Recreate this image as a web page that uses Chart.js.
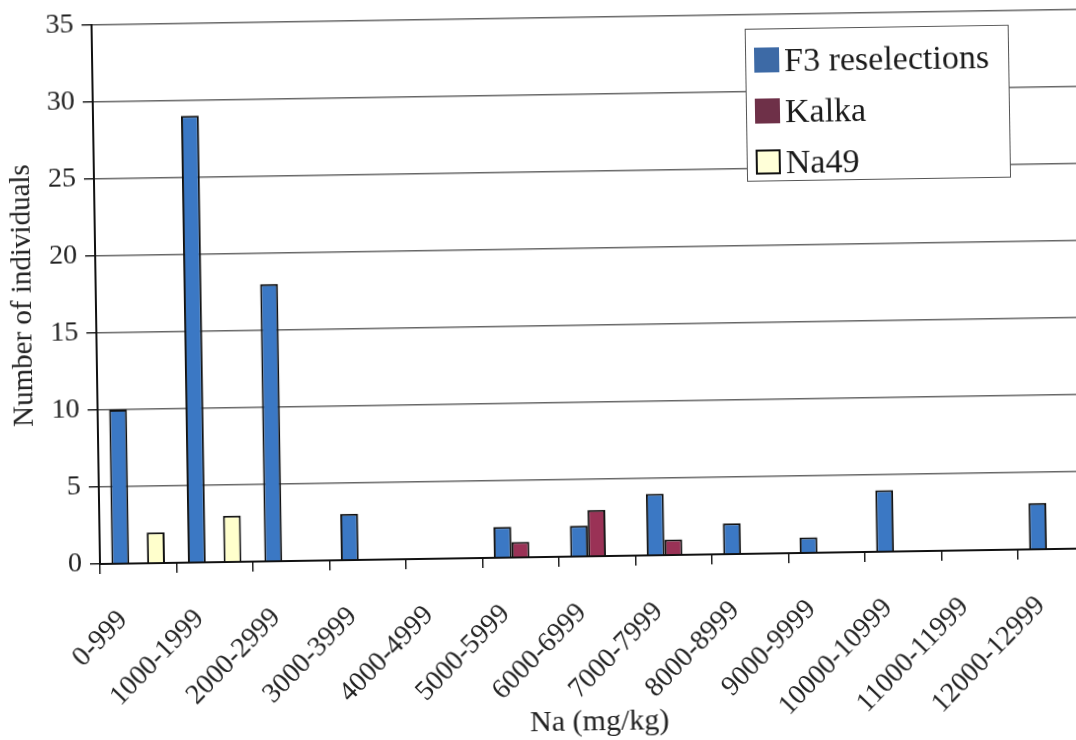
<!DOCTYPE html>
<html>
<head>
<meta charset="utf-8">
<script src="https://cdn.jsdelivr.net/npm/chart.js@4/dist/chart.umd.min.js"></script>
<style>
	body { margin: 0; background: #fff; overflow: hidden; }
	#wrap {
		position: absolute; left: 0; top: 0; width: 1110px; height: 752px;
		transform: rotate(-0.9deg); transform-origin: 100px 564px;
	}
	#legend {
		position: absolute; left: 753px; top: 39px; width: 264px; height: 153px;
		border: 1.5px solid #555; background: #fff; box-sizing: border-box; padding-top: 5px;
		font-family: "Liberation Serif", serif; font-size: 34px; color: #1a1a1a;
	}
	#legend div { display: flex; align-items: center; height: 51px; padding-left: 8px; }
	#legend span.box { width: 25px; height: 25px; margin-right: 5px; box-sizing: border-box; }
</style>
</head>
<body>
<div id="wrap">
	<canvas id="chart" width="1110" height="752"></canvas>
	<div id="legend"></div>
</div>
<script>
// Data
const categories = ["0-999", "1000-1999", "2000-2999", "3000-3999", "4000-4999", "5000-5999",
	"6000-6999", "7000-7999", "8000-8999", "9000-9999", "10000-10999", "11000-11999", "12000-12999"];
const f3Values = [10, 29, 18, 3, 0, 2, 2, 4, 2, 1, 4, 0, 3];
const kalkaValues = [0, 0, 0, 0, 0, 1, 3, 1, 0, 0, 0, 0, 0];
const na49Values = [2, 3, 0, 0, 0, 0, 0, 0, 0, 0, 0, 0, 0];
const yTicks = [0, 5, 10, 15, 20, 25, 30, 35];

const seriesNames = ["F3 reselections", "Kalka", "Na49"];
const seriesColors = ["#3b78c4", "#9a3256", "#ffffcc"];
const legendColors = ["#3d6aa6", "#6e3048", "#ffffd8"];

const serif = "'Liberation Serif', serif";

// Legend (html, sits inside the plot like the original)
const legendDiv = document.getElementById("legend");
seriesNames.forEach(function (name, i) {
	const row = document.createElement("div");
	const border = i == 2 ? "2px solid #111" : "none";
	row.innerHTML = `<span class="box" style="background:${legendColors[i]};border:${border}"></span>${name}`;
	legendDiv.appendChild(row);
});

const ctx = document.getElementById("chart").getContext("2d");
new Chart(ctx, {
	type: "bar",
	data: {
		labels: categories,
		datasets: [
			{ label: seriesNames[0], data: f3Values, backgroundColor: seriesColors[0] },
			{ label: seriesNames[1], data: kalkaValues, backgroundColor: seriesColors[1] },
			{ label: seriesNames[2], data: na49Values, backgroundColor: seriesColors[2] },
		].map(function (d) {
			d.borderColor = "#111";
			d.borderWidth = 2;
			d.borderSkipped = "bottom";
			d.categoryPercentage = 0.7;
			d.barPercentage = 1.0;
			return d;
		}),
	},
	options: {
		responsive: false,
		animation: false,
		layout: { padding: { top: 12, right: 5, left: 0, bottom: 4 } },
		plugins: {
			legend: { display: false },
			tooltip: { enabled: false },
		},
		scales: {
			y: {
				min: 0,
				max: 35,
				afterBuildTicks: function (scale) {
					scale.ticks = yTicks.map(function (v) { return { value: v }; });
				},
				afterFit: function (scale) { scale.width = 100; },
				ticks: { color: "#222", padding: 8, font: { family: serif, size: 28 } },
				grid: { color: "#666", lineWidth: 1.5, tickLength: 10, tickColor: "#222" },
				border: { color: "#111", width: 2 },
				title: {
					display: true,
					text: "Number of individuals",
					color: "#222",
					font: { family: serif, size: 29 },
					padding: { top: 10, bottom: 0 },
				},
			},
			x: {
				afterFit: function (scale) { scale.height = 752 - 564 - 4; },
				ticks: {
					color: "#222",
					minRotation: 45,
					maxRotation: 45,
					padding: 30,
					labelOffset: -16,
					font: { family: serif, size: 28 },
				},
				grid: { drawOnChartArea: false, offset: true, tickLength: 10, color: "#222", lineWidth: 1.5 },
				border: { color: "#111", width: 2 },
				title: {
					display: true,
					text: "Na (mg/kg)",
					color: "#222",
					font: { family: serif, size: 30 },
					padding: { top: 0, bottom: 0 },
				},
			},
		},
	},
});
</script>
</body>
</html>
